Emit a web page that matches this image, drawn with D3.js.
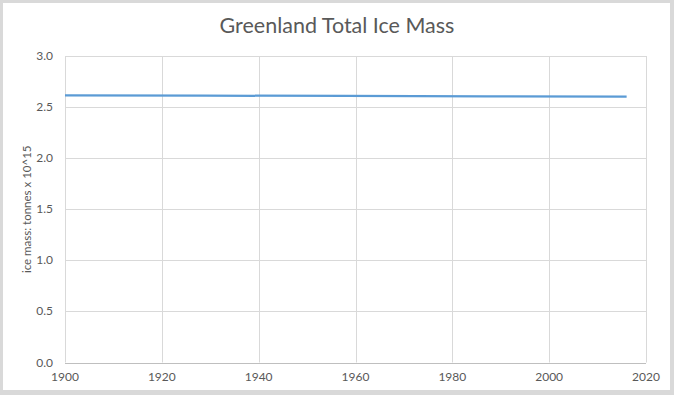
<!DOCTYPE html>
<html>
<head>
<meta charset="utf-8">
<script src="https://cdn.jsdelivr.net/npm/d3@7"></script>
<style>
  body { margin: 0; background: #d9d9d9; }
  svg { display: block; }
</style>
</head>
<body>
<div id="chart"></div>
<script>
// données
const years = [1900, 1929, 1958, 1987, 2016];
const iceMass = [2.614, 2.612, 2.609, 2.606, 2.603];
const xTicks = [1900, 1920, 1940, 1960, 1980, 2000, 2020];
const yTicks = [0, 0.5, 1.0, 1.5, 2.0, 2.5, 3.0];

const width = 674, height = 395;
const margin = { top: 56, right: 28, bottom: 32.5, left: 65 };

const svg = d3.select("#chart")
    .append("svg")
    .attr("width", width)
    .attr("height", height);

// fond blanc du graphique
svg.append("rect")
    .attr("x", 3).attr("y", 3)
    .attr("width", 667).attr("height", 387)
    .attr("fill", "white");

const x = d3.scaleLinear()
    .domain([1900, 2020])
    .range([margin.left, width - margin.right]);

const y = d3.scaleLinear()
    .domain([0, 3])
    .range([height - margin.bottom, margin.top]);

const font = "Lato, 'Open Sans', sans-serif";

// grille horizontale
svg.selectAll(".hgrid")
    .data(yTicks.filter(d => d > 0))
    .join("line")
    .attr("class", "hgrid")
    .attr("x1", x(1900)).attr("x2", x(2020))
    .attr("y1", d => Math.round(y(d)) + 0.5)
    .attr("y2", d => Math.round(y(d)) + 0.5)
    .attr("stroke", "#d9d9d9");

// grille verticale
svg.selectAll(".vgrid")
    .data(xTicks)
    .join("line")
    .attr("class", "vgrid")
    .attr("x1", d => Math.round(x(d)) + 0.5)
    .attr("x2", d => Math.round(x(d)) + 0.5)
    .attr("y1", y(3)).attr("y2", y(0))
    .attr("stroke", "#d9d9d9");

// axe du bas
svg.append("line")
    .attr("x1", x(1900)).attr("x2", x(2020))
    .attr("y1", Math.round(y(0)) + 0.5).attr("y2", Math.round(y(0)) + 0.5)
    .attr("stroke", "#bfbfbf");

// étiquettes Y
svg.selectAll(".ylab")
    .data(yTicks)
    .join("text")
    .attr("class", "ylab")
    .attr("x", 53)
    .attr("y", d => y(d) + 4)
    .attr("text-anchor", "end")
    .attr("fill", "#595959")
    .style("font", `12px ${font}`)
    .text(d => d.toFixed(1));

// étiquettes X
svg.selectAll(".xlab")
    .data(xTicks)
    .join("text")
    .attr("class", "xlab")
    .attr("x", d => x(d))
    .attr("y", 381)
    .attr("text-anchor", "middle")
    .attr("fill", "#595959")
    .style("font", `12px ${font}`)
    .text(d => d);

// la courbe
const line = d3.line()
    .x((d, i) => x(years[i]))
    .y(d => y(d));

svg.append("path")
    .datum(iceMass)
    .attr("d", line)
    .attr("fill", "none")
    .attr("stroke", "#5b9bd5")
    .attr("stroke-width", 2.25);

// titre
svg.append("text")
    .attr("x", 337)
    .attr("y", 33)
    .attr("text-anchor", "middle")
    .attr("fill", "#595959")
    .style("font", `21.5px ${font}`)
    .text("Greenland Total Ice Mass");

// titre de l'axe Y
svg.append("text")
    .attr("transform", `translate(31, ${(y(0) + y(3)) / 2}) rotate(-90)`)
    .attr("text-anchor", "middle")
    .attr("fill", "#595959")
    .style("font", `11.5px ${font}`)
    .text("ice mass: tonnes x 10^15");
</script>
</body>
</html>
